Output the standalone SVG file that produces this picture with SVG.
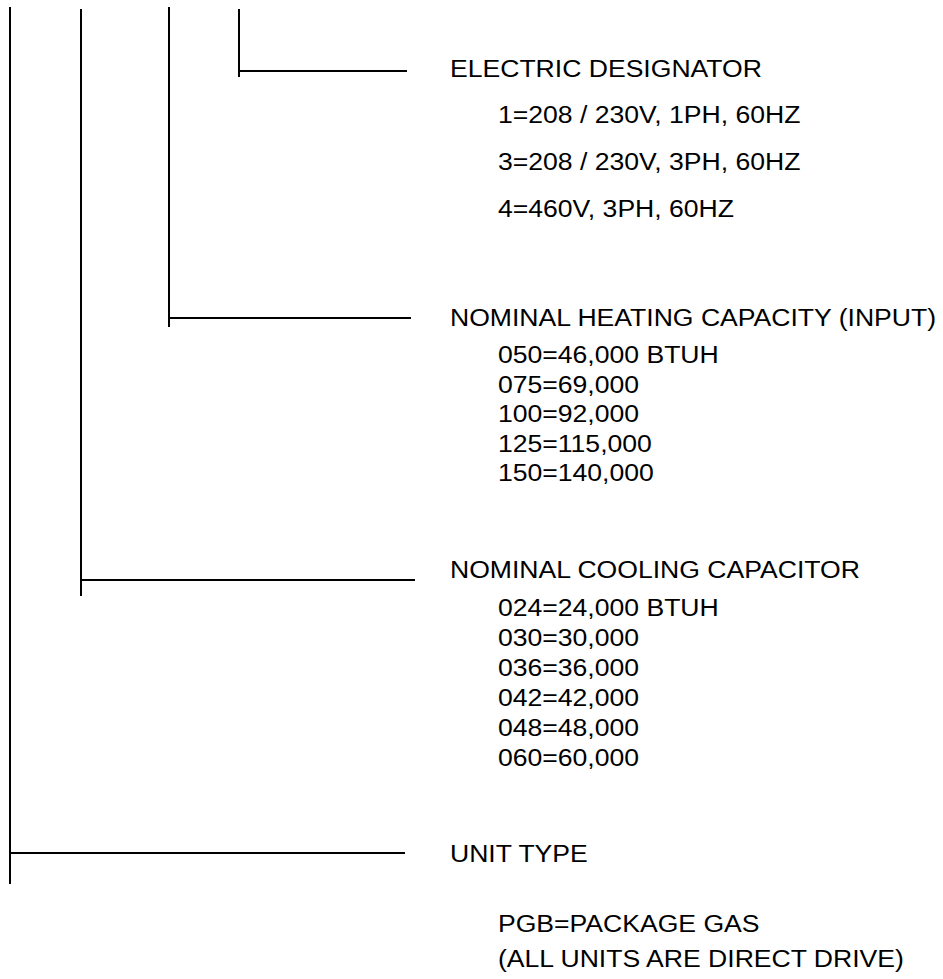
<svg xmlns="http://www.w3.org/2000/svg" width="943" height="979" viewBox="0 0 943 979">
<style>
.ln{stroke:#000;stroke-width:2;fill:none}
.t{font-family:"Liberation Sans",Arial,sans-serif;font-size:24.5px;fill:#000}
</style>
<rect width="943" height="979" fill="#fff"/>
<g id="connectors">
<line class="ln" x1="10" y1="7" x2="10" y2="884"/>
<line class="ln" x1="10" y1="853" x2="405" y2="853"/>
<line class="ln" x1="81" y1="9" x2="81" y2="596"/>
<line class="ln" x1="81" y1="580" x2="415" y2="580"/>
<line class="ln" x1="169" y1="7" x2="169" y2="327"/>
<line class="ln" x1="169" y1="318" x2="411" y2="318"/>
<line class="ln" x1="239" y1="9" x2="239" y2="77"/>
<line class="ln" x1="238" y1="71" x2="407" y2="71"/>
</g>
<g id="electric" transform="matrix(1.085,0,0,1,-38.25,0)">
<text class="t" x="450" y="77">ELECTRIC DESIGNATOR</text>
<text class="t" x="494.2" y="123">1=208 / 230V, 1PH, 60HZ</text>
<text class="t" x="494.2" y="170">3=208 / 230V, 3PH, 60HZ</text>
<text class="t" x="494.2" y="217">4=460V, 3PH, 60HZ</text>
</g>
<g id="heating" transform="matrix(1.085,0,0,1,-38.25,0)">
<text class="t" x="450" y="326">NOMINAL HEATING CAPACITY (INPUT)</text>
<text class="t" x="494.2" y="363">050=46,000 BTUH</text>
<text class="t" x="494.2" y="393">075=69,000</text>
<text class="t" x="494.2" y="422">100=92,000</text>
<text class="t" x="494.2" y="452">125=115,000</text>
<text class="t" x="494.2" y="481">150=140,000</text>
</g>
<g id="cooling" transform="matrix(1.085,0,0,1,-38.25,0)">
<text class="t" x="450" y="578">NOMINAL COOLING CAPACITOR</text>
<text class="t" x="494.2" y="616">024=24,000 BTUH</text>
<text class="t" x="494.2" y="646">030=30,000</text>
<text class="t" x="494.2" y="676">036=36,000</text>
<text class="t" x="494.2" y="706">042=42,000</text>
<text class="t" x="494.2" y="736">048=48,000</text>
<text class="t" x="494.2" y="766">060=60,000</text>
</g>
<g id="unittype" transform="matrix(1.085,0,0,1,-38.25,0)">
<text class="t" x="450" y="862">UNIT TYPE</text>
<text class="t" x="494.2" y="932">PGB=PACKAGE GAS</text>
<text class="t" x="494.2" y="967">(ALL UNITS ARE DIRECT DRIVE)</text>
</g>
</svg>
